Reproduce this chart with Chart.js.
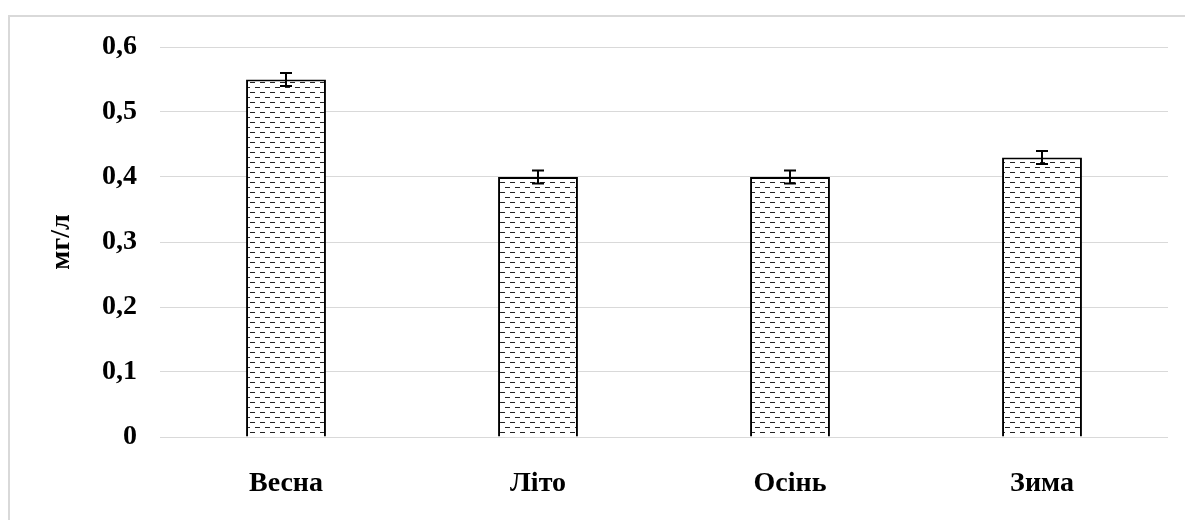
<!DOCTYPE html>
<html>
<head>
<meta charset="utf-8">
<script src="https://cdn.jsdelivr.net/npm/chart.js@4.4.1/dist/chart.umd.min.js"></script>
<style>
  html, body { margin: 0; padding: 0; background: #fff; }
  #wrap { position: relative; width: 1185px; height: 520px; }
  #frame { position: absolute; left: 8px; top: 15px; width: 1200px; height: 520px;
           border-top: 2px solid #d9d9d9; border-left: 2px solid #d9d9d9; box-sizing: border-box; }
  canvas { position: absolute; left: 0; top: 0; }
</style>
</head>
<body>
<div id="wrap">
  <div id="frame"></div>
  <canvas id="c" width="1185" height="520"></canvas>
</div>
<script>
const categories = ['Весна', 'Літо', 'Осінь', 'Зима'];
const values = [0.55, 0.40, 0.40, 0.43];
const errors = [0.01, 0.01, 0.01, 0.01];
const yTicks = [0, 0.1, 0.2, 0.3, 0.4, 0.5, 0.6];
const yTitle = 'мг/л';

function makePattern() {
  const p = document.createElement('canvas');
  p.width = 10; p.height = 10;
  const g = p.getContext('2d');
  g.fillStyle = '#ffffff';
  g.fillRect(0, 0, 10, 10);
  g.fillStyle = '#222222';
  g.fillRect(0, 2, 5, 1);
  g.fillRect(5, 7, 5, 1);
  return g.createPattern(p, 'repeat');
}

const errorBars = {
  id: 'errorBars',
  afterDatasetsDraw(chart) {
    const ctx = chart.ctx;
    const meta = chart.getDatasetMeta(0);
    const y = chart.scales.y;
    ctx.save();
    ctx.strokeStyle = '#000';
    ctx.lineWidth = 2;
    meta.data.forEach((bar, i) => {
      const x = bar.x;
      const hi = y.getPixelForValue(values[i] + errors[i]);
      const lo = y.getPixelForValue(values[i] - errors[i]);
      ctx.beginPath();
      ctx.moveTo(x, hi); ctx.lineTo(x, lo);
      ctx.moveTo(x - 6, hi); ctx.lineTo(x + 6, hi);
      ctx.moveTo(x - 6, lo); ctx.lineTo(x + 6, lo);
      ctx.stroke();
    });
    ctx.restore();
  }
};

const font = { family: '"Liberation Serif", "Times New Roman", serif', weight: 'bold', size: 28 };

new Chart(document.getElementById('c'), {
  type: 'bar',
  data: {
    labels: categories,
    datasets: [{
      data: values,
      backgroundColor: makePattern(),
      borderColor: '#000',
      borderWidth: 2,
      borderSkipped: 'bottom',
      categoryPercentage: 1,
      barPercentage: 0.317
    }]
  },
  options: {
    responsive: false,
    animation: false,
    events: [],
    layout: { padding: { left: 10, right: 17, top: 47, bottom: 0 } },
    plugins: { legend: { display: false }, tooltip: { enabled: false } },
    scales: {
      x: {
        grid: { display: false },
        border: { display: false },
        ticks: { color: '#000', font: font, padding: 22 },
        afterFit(s) { s.height = 83; }
      },
      y: {
        min: 0, max: 0.6,
        afterBuildTicks(s) { s.ticks = yTicks.map(v => ({ value: v })); },
        grid: { color: '#d9d9d9', lineWidth: 1, drawTicks: false },
        border: { display: false },
        ticks: {
          color: '#000', font: font, padding: 23,
          callback: v => String(v).replace('.', ',')
        },
        title: { display: true, text: yTitle, color: '#000', font: font, padding: { top: 35, bottom: 0 } },
        afterFit(s) { s.width = 150; }
      }
    }
  },
  plugins: [errorBars]
});
</script>
</body>
</html>
